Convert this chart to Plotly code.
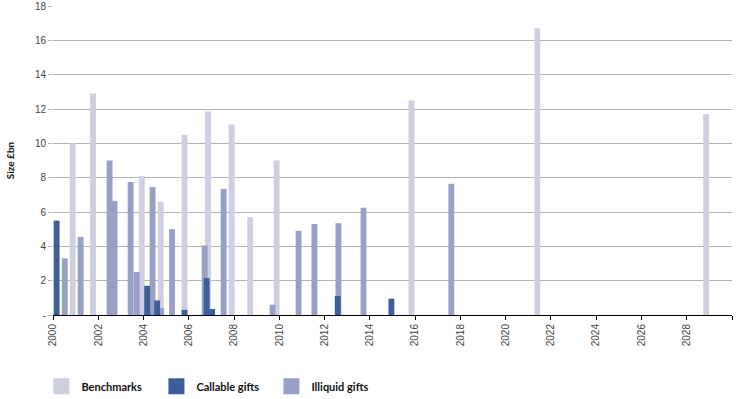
import plotly.graph_objects as go

# Data (year as decimal, size in £bn)
benchmark_years = [2000.87, 2001.77, 2003.92, 2004.76, 2005.81, 2006.85, 2007.89, 2008.71, 2009.88, 2015.84, 2021.40, 2028.86]
benchmark_sizes = [10.0, 12.9, 8.1, 6.6, 10.5, 11.85, 11.1, 5.7, 9.0, 12.5, 16.7, 11.7]

illiquid_years = [2000.52, 2001.22, 2002.72, 2002.50, 2003.43, 2003.70, 2004.40, 2004.78, 2005.26, 2006.70,
                  2007.54, 2009.70, 2010.85, 2011.55, 2012.61, 2013.72, 2017.60]
illiquid_sizes = [3.3, 4.55, 6.65, 9.0, 7.75, 2.5, 7.45, 0.4, 5.0, 4.05,
                  7.35, 0.6, 4.9, 5.3, 5.35, 6.25, 7.65]

callable_years = [2000.16, 2004.16, 2004.60, 2005.81, 2006.79, 2007.03, 2012.58, 2014.95]
callable_sizes = [5.5, 1.7, 0.85, 0.3, 2.15, 0.35, 1.1, 0.95]

tick_years = list(range(2000, 2031, 2))
tick_labels = [str(y) for y in range(2000, 2029, 2)] + [""]
y_ticks = list(range(0, 19, 2))
y_labels = ["-"] + [str(v) for v in range(2, 19, 2)]

C_BENCH = "#cfcfe2"
C_CALL = "#3d5e99"
C_ILLIQ = "#98a0c5"
BAR_W = 0.26

fig = go.Figure()
fig.add_trace(go.Bar(x=benchmark_years, y=benchmark_sizes, width=BAR_W, marker=dict(color=C_BENCH, line=dict(width=0)),
                     name="Benchmarks", showlegend=False))
fig.add_trace(go.Bar(x=illiquid_years, y=illiquid_sizes, width=BAR_W, marker=dict(color=C_ILLIQ, line=dict(width=0)),
                     name="Illiquid gifts", showlegend=False))
fig.add_trace(go.Bar(x=callable_years, y=callable_sizes, width=BAR_W, marker=dict(color=C_CALL, line=dict(width=0)),
                     name="Callable gifts", showlegend=False))

# legend entries
for nm, col in [("Benchmarks", C_BENCH), ("Callable gifts", C_CALL), ("Illiquid gifts", C_ILLIQ)]:
    fig.add_trace(go.Scatter(x=[None], y=[None], mode="markers", name=nm,
                             marker=dict(symbol="square", size=16, color=col, line=dict(width=0))))

fig.update_layout(
    width=740, height=399,
    margin=dict(l=53, r=8, t=6, b=84, autoexpand=False),
    barmode="overlay",
    plot_bgcolor="white", paper_bgcolor="white",
    font=dict(family="Liberation Sans, Arial, sans-serif", size=10, color="#444444"),
    legend=dict(orientation="h", xref="container", yref="container", x=0.056, y=0.032,
                xanchor="left", yanchor="middle", entrywidth=70, entrywidthmode="pixels",
                font=dict(family="Lato, sans-serif", size=11, color="#111111", weight="bold"),
                itemwidth=30, tracegroupgap=0),
    xaxis=dict(range=[2000, 2030], tickmode="array", tickvals=tick_years, ticktext=tick_labels,
               tickangle=-90, showgrid=False, zeroline=False, showline=True, linecolor="black", linewidth=1,
               ticks="outside", ticklen=4, tickcolor="black", automargin=False,
               tickfont=dict(family="Liberation Sans, Arial, sans-serif", size=10, color="#444444")),
    yaxis=dict(range=[0, 18], tickmode="array", tickvals=y_ticks, ticktext=y_labels,
               showgrid=True, gridcolor="#b4b4b4", gridwidth=1, zeroline=False, showline=False,
               ticks="outside", ticklen=4, tickcolor="#b4b4b4", automargin=False,
               tickfont=dict(family="Liberation Sans, Arial, sans-serif", size=10, color="#444444"),
               title=dict(text="Size £bn", standoff=18,
                          font=dict(family="Lato, sans-serif", size=10, color="#111111", weight="bold"))),
)

fig.write_html("out.html", config={"displayModeBar": False},
               post_script="document.body.style.margin='0';")
